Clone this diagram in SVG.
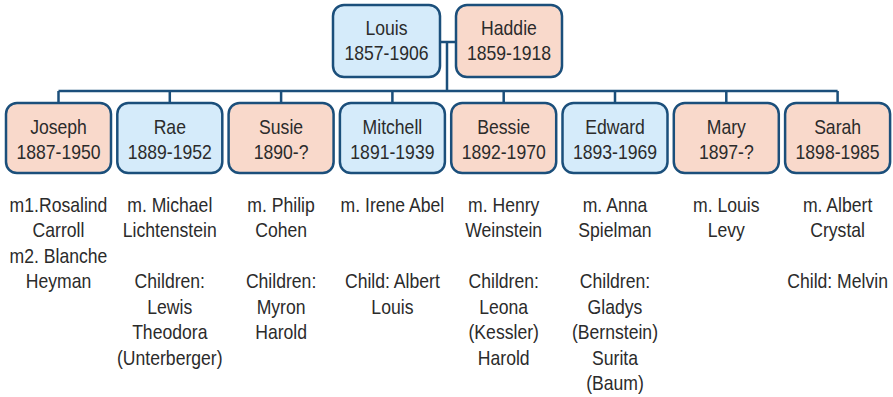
<svg xmlns="http://www.w3.org/2000/svg" width="893" height="397" viewBox="0 0 893 397">
<style>
.box{stroke:#1b4f7b;stroke-width:2.5}
.m{fill:#d5ebfa}
.f{fill:#f9d9cb}
.conn{stroke:#1b4f7b;stroke-width:2.5;fill:none}
text{font-family:"Liberation Sans",Arial,sans-serif;font-size:20px;fill:#2b2b2b;text-anchor:middle}
</style>
<rect width="893" height="397" fill="#ffffff"/>
<g id="connectors">
<path class="conn" d="M440 42H456M447 42V91M58.5 91H837.6M58.5 91V103M169.8 91V103M281.1 91V103M392.4 91V103M503.7 91V103M615 91V103M726.3 91V103M837.6 91V103"/>
</g>
<g id="louis"><rect class="box m" x="333" y="5" width="107" height="72" rx="11"/><g transform="scale(0.88 1)"><text x="439.2" y="35">Louis</text><text x="439.2" y="60">1857-1906</text></g></g>
<g id="haddie"><rect class="box f" x="456" y="5" width="106" height="72" rx="11"/><g transform="scale(0.88 1)"><text x="578.4" y="35">Haddie</text><text x="578.4" y="60">1859-1918</text></g></g>
<g id="joseph"><rect class="box f" x="6" y="103" width="105" height="70" rx="11"/><g transform="scale(0.88 1)"><text x="66.48" y="134">Joseph</text><text x="66.48" y="159">1887-1950</text>
<text x="66.48" y="212">m1.Rosalind</text><text x="66.48" y="237.5">Carroll</text><text x="66.48" y="263">m2. Blanche</text><text x="66.48" y="288.5">Heyman</text></g></g>
<g id="rae"><rect class="box m" x="117.3" y="103" width="105" height="70" rx="11"/><g transform="scale(0.88 1)"><text x="192.95" y="134">Rae</text><text x="192.95" y="159">1889-1952</text>
<text x="192.95" y="212">m. Michael</text><text x="192.95" y="237.5">Lichtenstein</text><text x="192.95" y="288.5">Children:</text><text x="192.95" y="314">Lewis</text><text x="192.95" y="339.5">Theodora</text><text x="192.95" y="365">(Unterberger)</text></g></g>
<g id="susie"><rect class="box f" x="228.6" y="103" width="105" height="70" rx="11"/><g transform="scale(0.88 1)"><text x="319.43" y="134">Susie</text><text x="319.43" y="159">1890-?</text>
<text x="319.43" y="212">m. Philip</text><text x="319.43" y="237.5">Cohen</text><text x="319.43" y="288.5">Children:</text><text x="319.43" y="314">Myron</text><text x="319.43" y="339.5">Harold</text></g></g>
<g id="mitchell"><rect class="box m" x="339.9" y="103" width="105" height="70" rx="11"/><g transform="scale(0.88 1)"><text x="445.91" y="134">Mitchell</text><text x="445.91" y="159">1891-1939</text>
<text x="445.91" y="212">m. Irene Abel</text><text x="445.91" y="288.5">Child: Albert</text><text x="445.91" y="314">Louis</text></g></g>
<g id="bessie"><rect class="box f" x="451.2" y="103" width="105" height="70" rx="11"/><g transform="scale(0.88 1)"><text x="572.39" y="134">Bessie</text><text x="572.39" y="159">1892-1970</text>
<text x="572.39" y="212">m. Henry</text><text x="572.39" y="237.5">Weinstein</text><text x="572.39" y="288.5">Children:</text><text x="572.39" y="314">Leona</text><text x="572.39" y="339.5">(Kessler)</text><text x="572.39" y="365">Harold</text></g></g>
<g id="edward"><rect class="box m" x="562.5" y="103" width="105" height="70" rx="11"/><g transform="scale(0.88 1)"><text x="698.86" y="134">Edward</text><text x="698.86" y="159">1893-1969</text>
<text x="698.86" y="212">m. Anna</text><text x="698.86" y="237.5">Spielman</text><text x="698.86" y="288.5">Children:</text><text x="698.86" y="314">Gladys</text><text x="698.86" y="339.5">(Bernstein)</text><text x="698.86" y="365">Surita</text><text x="698.86" y="390.5">(Baum)</text></g></g>
<g id="mary"><rect class="box f" x="673.8" y="103" width="105" height="70" rx="11"/><g transform="scale(0.88 1)"><text x="825.34" y="134">Mary</text><text x="825.34" y="159">1897-?</text>
<text x="825.34" y="212">m. Louis</text><text x="825.34" y="237.5">Levy</text></g></g>
<g id="sarah"><rect class="box f" x="785.1" y="103" width="105" height="70" rx="11"/><g transform="scale(0.88 1)"><text x="951.82" y="134">Sarah</text><text x="951.82" y="159">1898-1985</text>
<text x="951.82" y="212">m. Albert</text><text x="951.82" y="237.5">Crystal</text><text x="951.82" y="288.5">Child: Melvin</text></g></g>
</svg>
